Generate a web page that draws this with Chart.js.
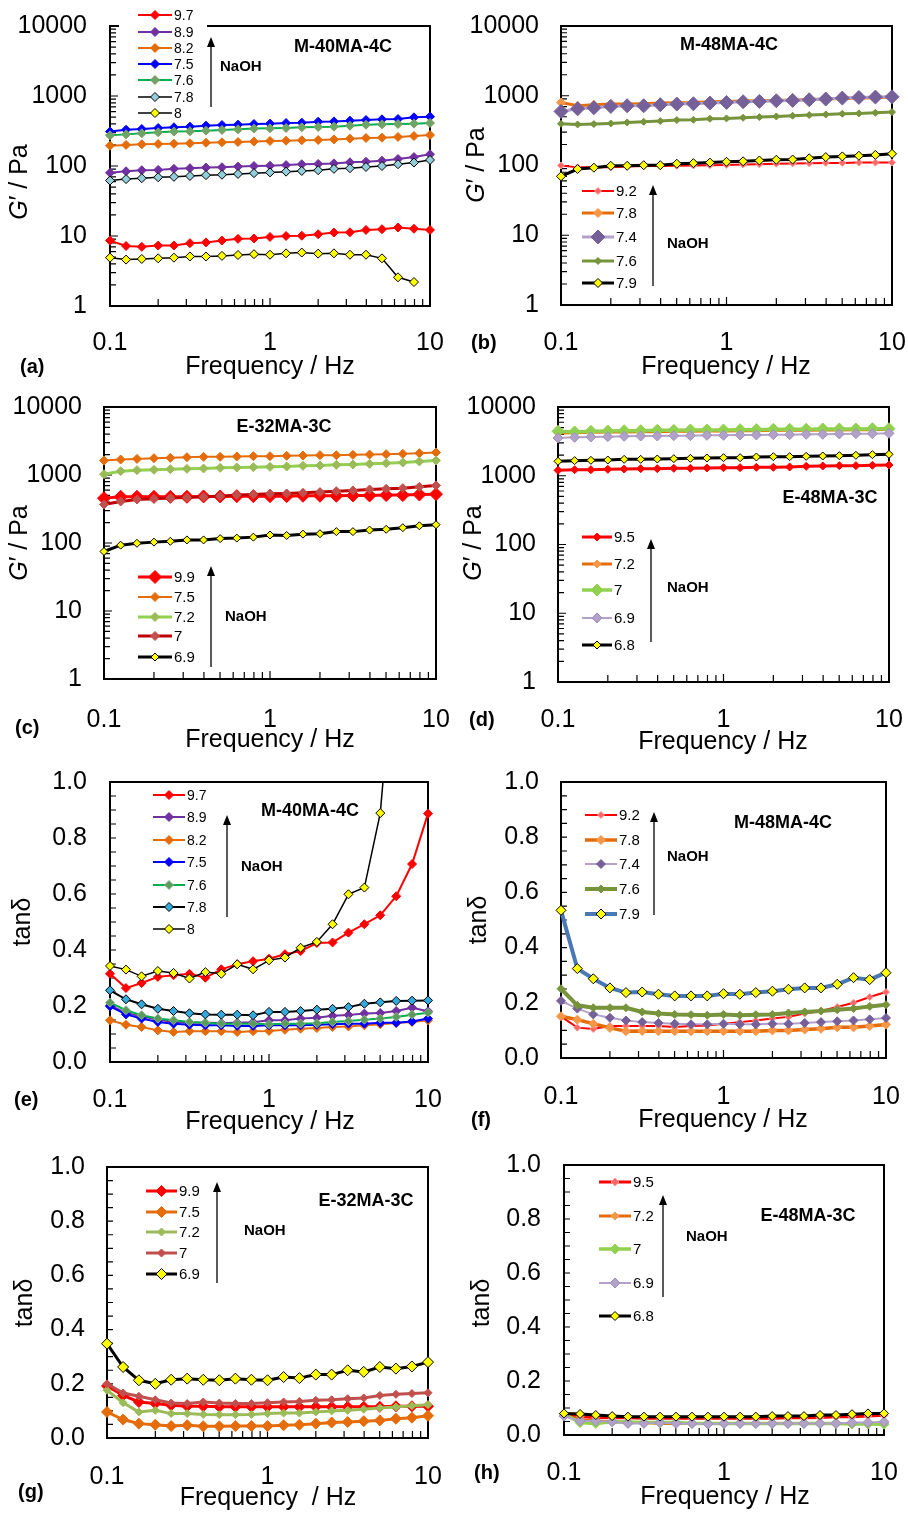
<!DOCTYPE html>
<html>
<head>
<meta charset="utf-8">
<script src="https://cdn.jsdelivr.net/npm/chart.js@4.4.1/dist/chart.umd.min.js"></script>
<style>
  html, body { margin: 0; padding: 0; background: #fff; }
  #wrap { position: relative; width: 908px; height: 1513px; }
  #wrap canvas { position: absolute; left: 0; top: 0; }
</style>
</head>
<body>
<div id="wrap"></div>
<script>
// shared axes
const freq = [0.1, 0.126, 0.158, 0.2, 0.251, 0.316, 0.398, 0.501, 0.631, 0.794, 1, 1.26, 1.58, 2, 2.51, 3.16, 3.98, 5.01, 6.31, 7.94, 10];
const xTickVals = [0.1, 1, 10];
const xTickLabels = ['0.1', '1', '10'];
const gTickVals = [1, 10, 100, 1000, 10000];
const gTickLabels = ['1', '10', '100', '1000', '10000'];
const tanTickVals = [0, 0.2, 0.4, 0.6, 0.8, 1.0];
const tanTickLabels = ['0.0', '0.2', '0.4', '0.6', '0.8', '1.0'];

// (a) M-40MA-4C, G'
const aNames = ['9.7', '8.9', '8.2', '7.5', '7.6', '7.8', '8'];
const a97 = [8.6, 7.2, 7.0, 7.3, 7.3, 7.9, 8.1, 8.6, 9.1, 9.2, 9.7, 10.0, 10.1, 10.6, 11.2, 11.3, 12.2, 12.5, 13.2, 12.7, 12.2];
const a89 = [80, 84, 87, 88, 91, 93, 95, 96, 98, 100, 101, 103, 106, 107, 109, 113, 115, 119, 126, 134, 147];
const a82 = [195, 200, 204, 206, 208, 211, 215, 218, 220, 223, 228, 230, 233, 235, 240, 246, 251, 254, 260, 268, 277];
const a75 = [310, 330, 338, 349, 357, 365, 377, 385, 390, 398, 403, 411, 416, 430, 434, 444, 454, 464, 469, 496, 507];
const a76 = [274, 283, 293, 303, 310, 313, 320, 327, 334, 342, 345, 349, 357, 361, 365, 376, 389, 394, 398, 403, 411];
const a78 = [62, 65, 67, 69, 70, 72, 74, 75, 77, 79, 81, 83, 85, 87, 91, 93, 97, 100, 106, 112, 122];
const a8 = [4.9, 4.6, 4.7, 4.8, 4.9, 5.1, 5.1, 5.2, 5.35, 5.5, 5.4, 5.65, 5.8, 5.6, 5.65, 5.4, 5.4, 4.8, 2.57, 2.2];

// (b) M-48MA-4C, G'
const bNames = ['9.2', '7.8', '7.4', '7.6', '7.9'];
const b92 = [100, 94, 94, 94, 97, 98, 98, 99, 100, 101, 102, 103, 104, 106, 107, 108, 109, 109, 110, 110, 110];
const b78 = [802, 718, 743, 760, 760, 768, 785, 794, 802, 820, 829, 838, 847, 857, 866, 886, 896, 916, 926, 936, 957];
const b74 = [596, 650, 673, 703, 718, 718, 743, 760, 768, 785, 802, 820, 829, 847, 857, 876, 896, 926, 946, 957, 967];
const b76 = [396, 388, 392, 401, 414, 423, 433, 448, 452, 468, 473, 484, 494, 505, 517, 528, 539, 552, 558, 570, 583];
const b79 = [70, 89, 93, 99, 99, 101, 101, 106, 108, 110, 113, 115, 118, 121, 122, 127, 132, 135, 138, 142, 147];

// (c) E-32MA-3C, G'
const cNames = ['9.9', '7.5', '7.2', '7', '6.9'];
const c99 = [457, 478, 478, 478, 478, 478, 484, 484, 489, 489, 489, 489, 495, 495, 495, 500, 500, 506, 506, 517, 523];
const c75 = [1633, 1688, 1726, 1766, 1786, 1827, 1848, 1848, 1869, 1890, 1890, 1911, 1933, 1955, 1955, 1977, 2000, 2022, 2045, 2092, 2139];
const c72 = [1028, 1138, 1178, 1191, 1218, 1232, 1246, 1274, 1288, 1303, 1318, 1333, 1363, 1379, 1410, 1426, 1458, 1492, 1526, 1578, 1633];
const c7 = [369, 408, 437, 447, 457, 468, 478, 489, 506, 517, 529, 535, 547, 560, 579, 593, 613, 627, 641, 670, 702];
const c69 = [75, 93, 99, 103, 106, 111, 111, 116, 118, 122, 131, 129, 135, 137, 147, 147, 155, 159, 168, 179, 186];

// (d) E-48MA-3C, G'
const dNames = ['9.5', '7.2', '7', '6.9', '6.8'];
const d95 = [1199, 1225, 1225, 1240, 1253, 1268, 1268, 1282, 1282, 1297, 1311, 1311, 1326, 1326, 1341, 1371, 1387, 1403, 1403, 1418, 1434];
const d72 = [4185, 4233, 4281, 4329, 4329, 4377, 4377, 4427, 4427, 4477, 4477, 4527, 4527, 4577, 4577, 4577, 4629, 4629, 4680, 4680, 4733];
const d7 = [4427, 4329, 4427, 4477, 4527, 4527, 4577, 4577, 4629, 4629, 4629, 4680, 4680, 4733, 4733, 4733, 4786, 4786, 4786, 4840, 4840];
const d69 = [3541, 3622, 3662, 3703, 3744, 3786, 3786, 3828, 3828, 3871, 3871, 3914, 3914, 3958, 3958, 4003, 4003, 4048, 4093, 4093, 4139];
const d68 = [1621, 1658, 1676, 1695, 1733, 1733, 1752, 1772, 1792, 1812, 1832, 1832, 1874, 1895, 1895, 1916, 1938, 1960, 1982, 2026, 2049];

// (e) M-40MA-4C, tan delta
const eNames = ['9.7', '8.9', '8.2', '7.5', '7.6', '7.8', '8'];
const e97 = [0.315, 0.264, 0.282, 0.304, 0.310, 0.315, 0.301, 0.331, 0.349, 0.360, 0.369, 0.385, 0.396, 0.425, 0.427, 0.462, 0.492, 0.524, 0.592, 0.707, 0.887];
const e89 = [0.202, 0.175, 0.163, 0.152, 0.143, 0.140, 0.140, 0.139, 0.140, 0.142, 0.149, 0.149, 0.155, 0.158, 0.165, 0.168, 0.173, 0.175, 0.182, 0.194, 0.181];
const e82 = [0.149, 0.133, 0.125, 0.113, 0.107, 0.110, 0.110, 0.110, 0.107, 0.110, 0.111, 0.115, 0.119, 0.121, 0.125, 0.127, 0.131, 0.135, 0.139, 0.143, 0.149];
const e75 = [0.199, 0.170, 0.155, 0.143, 0.137, 0.133, 0.131, 0.131, 0.129, 0.129, 0.131, 0.131, 0.131, 0.133, 0.135, 0.137, 0.137, 0.140, 0.140, 0.145, 0.155];
const e76 = [0.212, 0.185, 0.167, 0.155, 0.149, 0.143, 0.140, 0.137, 0.137, 0.137, 0.135, 0.137, 0.137, 0.138, 0.143, 0.146, 0.151, 0.155, 0.161, 0.169, 0.176];
const e78 = [0.256, 0.224, 0.206, 0.190, 0.182, 0.174, 0.170, 0.169, 0.169, 0.167, 0.179, 0.179, 0.182, 0.187, 0.190, 0.196, 0.208, 0.213, 0.218, 0.219, 0.220];
const e8 = [0.343, 0.330, 0.306, 0.325, 0.318, 0.298, 0.321, 0.315, 0.349, 0.331, 0.363, 0.373, 0.408, 0.429, 0.492, 0.599, 0.623, 0.889, 1.55];

// (f) M-48MA-4C, tan delta
const fNames = ['9.2', '7.8', '7.4', '7.6', '7.9'];
const f92 = [0.151, 0.110, 0.105, 0.116, 0.116, 0.116, 0.116, 0.112, 0.116, 0.118, 0.124, 0.130, 0.136, 0.143, 0.149, 0.161, 0.170, 0.185, 0.200, 0.221, 0.239];
const f78 = [0.151, 0.139, 0.124, 0.109, 0.097, 0.098, 0.097, 0.097, 0.097, 0.097, 0.097, 0.097, 0.097, 0.100, 0.100, 0.103, 0.106, 0.111, 0.111, 0.116, 0.121];
const f74 = [0.207, 0.179, 0.158, 0.146, 0.136, 0.130, 0.127, 0.124, 0.122, 0.122, 0.124, 0.122, 0.122, 0.124, 0.124, 0.127, 0.130, 0.133, 0.136, 0.140, 0.145];
const f76 = [0.251, 0.191, 0.182, 0.182, 0.182, 0.167, 0.161, 0.158, 0.157, 0.155, 0.158, 0.155, 0.157, 0.158, 0.163, 0.167, 0.170, 0.175, 0.179, 0.187, 0.193];
const f79 = [0.535, 0.324, 0.287, 0.254, 0.237, 0.239, 0.231, 0.225, 0.225, 0.225, 0.233, 0.231, 0.237, 0.242, 0.249, 0.254, 0.254, 0.267, 0.291, 0.284, 0.309];

// (g) E-32MA-3C, tan delta
const gNames = ['9.9', '7.5', '7.2', '7', '6.9'];
const g99 = [0.192, 0.157, 0.133, 0.127, 0.121, 0.117, 0.117, 0.115, 0.115, 0.115, 0.115, 0.115, 0.115, 0.115, 0.115, 0.115, 0.115, 0.115, 0.117, 0.117, 0.117];
const g75 = [0.096, 0.068, 0.053, 0.049, 0.044, 0.047, 0.043, 0.043, 0.044, 0.044, 0.044, 0.047, 0.049, 0.053, 0.057, 0.059, 0.062, 0.065, 0.071, 0.075, 0.082];
const g72 = [0.176, 0.130, 0.096, 0.102, 0.090, 0.090, 0.087, 0.086, 0.086, 0.087, 0.090, 0.092, 0.092, 0.096, 0.100, 0.102, 0.106, 0.111, 0.114, 0.119, 0.123];
const g7 = [0.200, 0.166, 0.154, 0.141, 0.129, 0.127, 0.133, 0.129, 0.127, 0.127, 0.130, 0.133, 0.135, 0.139, 0.141, 0.145, 0.148, 0.157, 0.161, 0.164, 0.167];
const g69 = [0.348, 0.262, 0.213, 0.200, 0.215, 0.219, 0.215, 0.213, 0.219, 0.215, 0.213, 0.225, 0.221, 0.234, 0.234, 0.250, 0.244, 0.262, 0.256, 0.264, 0.280];

// (h) E-48MA-3C, tan delta
const hNames = ['9.5', '7.2', '7', '6.9', '6.8'];
const h95 = [0.074, 0.068, 0.065, 0.064, 0.064, 0.062, 0.062, 0.062, 0.062, 0.062, 0.062, 0.062, 0.062, 0.062, 0.064, 0.064, 0.065, 0.068, 0.068, 0.070, 0.073];
const h72 = [0.074, 0.056, 0.052, 0.049, 0.047, 0.046, 0.043, 0.043, 0.043, 0.043, 0.043, 0.043, 0.043, 0.043, 0.043, 0.043, 0.043, 0.043, 0.043, 0.043, 0.043];
const h7 = [0.078, 0.046, 0.043, 0.049, 0.047, 0.046, 0.046, 0.046, 0.043, 0.043, 0.043, 0.043, 0.043, 0.043, 0.043, 0.043, 0.043, 0.043, 0.041, 0.041, 0.040];
const h69 = [0.070, 0.052, 0.052, 0.049, 0.043, 0.043, 0.046, 0.043, 0.043, 0.041, 0.043, 0.043, 0.043, 0.043, 0.043, 0.043, 0.043, 0.043, 0.046, 0.046, 0.049];
const h68 = [0.080, 0.078, 0.074, 0.070, 0.068, 0.068, 0.068, 0.068, 0.068, 0.068, 0.068, 0.068, 0.068, 0.070, 0.070, 0.070, 0.074, 0.074, 0.077, 0.080, 0.080];

const FONT = "'Liberation Sans', Arial, sans-serif";
const W = 908, H = 1513, Y_W = 100, X_H = 80;

function series(label, values, o) {
  return {
    label: label,
    data: values.map((v, i) => ({ x: freq[i], y: v })),
    borderColor: o.line,
    borderWidth: o.lw,
    backgroundColor: o.fill,
    pointStyle: 'rectRot',
    pointRadius: o.r,
    pointHoverRadius: o.r,
    pointBackgroundColor: o.fill,
    pointBorderColor: o.edge || o.fill,
    pointBorderWidth: 1,
    tension: 0,
    fill: false,
    clip: { left: 12, right: 12, top: 0, bottom: 12 }
  };
}

function labelFor(v, vals, labels) {
  const i = vals.findIndex(t => Math.abs(v - t) <= 1e-6 * Math.max(Math.abs(t), 1e-3));
  return i >= 0 ? labels[i] : '';
}

const yel = { fill: '#ffff00', edge: '#000000' };

const panels = [
  {
    box: [110, 26, 430, 306], log: true, xPad: 22, yPad: 23,
    title: ['M-40MA-4C', 343, 47], letter: ['(a)', 20, 367],
    xTitle: ['Frequency / Hz', 270, 367], yTitle: [20, 182],
    legend: { x0: 138, x1: 172, ys: [15, 32, 48, 64, 80, 97, 113], size: 14, bg: [119, 0, 88, 33] },
    arrow: [211, 107, 37], naoh: [220, 67],
    sets: [
      series(aNames[0], a97, { line: '#ff0000', fill: '#ff0000', lw: 2, r: 4.5 }),
      series(aNames[1], a89, { line: '#7030a0', fill: '#7030a0', lw: 2, r: 4.5 }),
      series(aNames[2], a82, { line: '#e46c0a', fill: '#e46c0a', lw: 2, r: 4.5 }),
      series(aNames[3], a75, { line: '#0000ff', fill: '#0000ff', lw: 2, r: 4.5 }),
      series(aNames[4], a76, { line: '#00b050', fill: '#6aa66a', edge: '#8a9a5b', lw: 2, r: 4.5 }),
      series(aNames[5], a78, { line: '#000000', fill: '#92cddc', edge: '#000000', lw: 1.5, r: 4.5 }),
      series(aNames[6], a8, { line: '#000000', fill: yel.fill, edge: yel.edge, lw: 1.5, r: 4.5 })
    ]
  },
  {
    box: [561, 26, 892, 305], log: true, xPad: 23, yPad: 22,
    title: ['M-48MA-4C', 729, 45], letter: ['(b)', 471, 343],
    xTitle: ['Frequency / Hz', 726, 367], yTitle: [477, 165],
    legend: { x0: 582, x1: 614, ys: [191, 213, 237, 261, 283], size: 15 },
    arrow: [653, 286, 185], naoh: [667, 244],
    sets: [
      series(bNames[0], b92, { line: '#ff0000', fill: '#ff6666', edge: '#ff9999', lw: 2, r: 3.5 }),
      series(bNames[1], b78, { line: '#e46c0a', fill: '#f79646', lw: 3, r: 4.5 }),
      series(bNames[2], b74, { line: '#b3a2c7', fill: '#76609a', lw: 3, r: 7 }),
      series(bNames[3], b76, { line: '#77933c', fill: '#77933c', lw: 3, r: 3.5 }),
      series(bNames[4], b79, { line: '#000000', fill: yel.fill, edge: yel.edge, lw: 3, r: 4.5 })
    ]
  },
  {
    box: [104, 407, 436, 679], log: true, xPad: 26, yPad: 22,
    title: ['E-32MA-3C', 284, 427], letter: ['(c)', 15, 728],
    xTitle: ['Frequency / Hz', 270, 740], yTitle: [20, 543],
    legend: { x0: 138, x1: 172, ys: [577, 597, 617, 636, 657], size: 15 },
    arrow: [211, 667, 566], naoh: [225, 617],
    sets: [
      series(cNames[0], c99, { line: '#ff0000', fill: '#ff0000', lw: 3, r: 6.5 }),
      series(cNames[1], c75, { line: '#e46c0a', fill: '#e46c0a', lw: 2, r: 4.5 }),
      series(cNames[2], c72, { line: '#92d050', fill: '#9bbb59', lw: 3, r: 4.5 }),
      series(cNames[3], c7, { line: '#c00000', fill: '#c0504d', lw: 3, r: 4.5 }),
      series(cNames[4], c69, { line: '#000000', fill: yel.fill, edge: yel.edge, lw: 3, r: 4 })
    ]
  },
  {
    box: [558, 407, 889, 682], log: true, xPad: 23, yPad: 22,
    title: ['E-48MA-3C', 830, 498], letter: ['(d)', 469, 720],
    xTitle: ['Frequency / Hz', 723, 742], yTitle: [474, 543],
    legend: { x0: 582, x1: 612, ys: [537, 564, 590, 618, 645], size: 15 },
    arrow: [651, 642, 539], naoh: [667, 588],
    sets: [
      series(dNames[0], d95, { line: '#ff0000', fill: '#ff0000', lw: 3, r: 4 }),
      series(dNames[1], d72, { line: '#e46c0a', fill: '#f79646', lw: 3, r: 4 }),
      series(dNames[2], d7, { line: '#92d050', fill: '#92d050', lw: 3.5, r: 6 }),
      series(dNames[3], d69, { line: '#b3a2c7', fill: '#b3a2c7', edge: '#9f8fbf', lw: 2, r: 5 }),
      series(dNames[4], d68, { line: '#000000', fill: yel.fill, edge: yel.edge, lw: 3, r: 4 })
    ]
  },
  {
    box: [110, 782, 428, 1062], log: false, xPad: 23, yPad: 23,
    title: ['M-40MA-4C', 310, 811], letter: ['(e)', 14, 1100],
    xTitle: ['Frequency / Hz', 270, 1122], yTitle: [23, 922],
    legend: { x0: 153, x1: 185, ys: [795, 817, 840, 862, 885, 907, 929], size: 14 },
    arrow: [227, 917, 815], naoh: [241, 867],
    sets: [
      series(eNames[0], e97, { line: '#ff0000', fill: '#ff0000', lw: 2, r: 4.5 }),
      series(eNames[1], e89, { line: '#7030a0', fill: '#7030a0', lw: 2, r: 4.5 }),
      series(eNames[2], e82, { line: '#e46c0a', fill: '#e46c0a', lw: 2, r: 4.5 }),
      series(eNames[3], e75, { line: '#0000ff', fill: '#0000ff', lw: 2, r: 4.5 }),
      series(eNames[4], e76, { line: '#00b050', fill: '#5b9b5b', edge: '#8db38d', lw: 2, r: 4.5 }),
      series(eNames[5], e78, { line: '#000000', fill: '#33a9dc', edge: '#000000', lw: 2, r: 4.5 }),
      series(eNames[6], e8, { line: '#000000', fill: yel.fill, edge: yel.edge, lw: 1.5, r: 4.5 })
    ]
  },
  {
    box: [561, 782, 886, 1058], log: false, xPad: 24, yPad: 22,
    title: ['M-48MA-4C', 783, 823], letter: ['(f)', 471, 1120],
    xTitle: ['Frequency / Hz', 723, 1120], yTitle: [479, 920],
    legend: { x0: 585, x1: 617, ys: [815, 840, 864, 889, 914], size: 15 },
    arrow: [654, 915, 812], naoh: [667, 857],
    sets: [
      series(fNames[0], f92, { line: '#ff0000', fill: '#ff6666', edge: '#ff9999', lw: 2, r: 3.5 }),
      series(fNames[1], f78, { line: '#e46c0a', fill: '#f79646', lw: 3.5, r: 4.5 }),
      series(fNames[2], f74, { line: '#b3a2c7', fill: '#76609a', lw: 2, r: 4.5 }),
      series(fNames[3], f76, { line: '#77933c', fill: '#77933c', lw: 4, r: 4 }),
      series(fNames[4], f79, { line: '#4a78b5', fill: yel.fill, edge: yel.edge, lw: 4, r: 5 })
    ]
  },
  {
    box: [107, 1167, 428, 1438], log: false, xPad: 24, yPad: 22,
    title: ['E-32MA-3C', 366, 1201], letter: ['(g)', 18, 1492],
    xTitle: ['Frequency  / Hz', 268, 1498], yTitle: [25, 1303],
    legend: { x0: 146, x1: 177, ys: [1191, 1212, 1232, 1253, 1274], size: 15 },
    arrow: [217, 1283, 1182], naoh: [244, 1231],
    sets: [
      series(gNames[0], g99, { line: '#ff0000', fill: '#ff0000', lw: 3, r: 5.5 }),
      series(gNames[1], g75, { line: '#e46c0a', fill: '#e46c0a', lw: 3, r: 5.5 }),
      series(gNames[2], g72, { line: '#9bbb59', fill: '#9bbb59', lw: 3, r: 4 }),
      series(gNames[3], g7, { line: '#c0504d', fill: '#c0504d', lw: 3, r: 4 }),
      series(gNames[4], g69, { line: '#000000', fill: yel.fill, edge: yel.edge, lw: 3, r: 5.5 })
    ]
  },
  {
    box: [564, 1165, 884, 1435], log: false, xPad: 23, yPad: 23,
    title: ['E-48MA-3C', 808, 1216], letter: ['(h)', 474, 1473],
    xTitle: ['Frequency / Hz', 725, 1497], yTitle: [482, 1303],
    legend: { x0: 599, x1: 631, ys: [1182, 1216, 1249, 1283, 1316], size: 15 },
    arrow: [663, 1297, 1195], naoh: [686, 1237],
    sets: [
      series(hNames[0], h95, { line: '#ff0000', fill: '#ff6666', edge: '#ff9999', lw: 3, r: 4 }),
      series(hNames[1], h72, { line: '#e46c0a', fill: '#f79646', lw: 3, r: 4 }),
      series(hNames[2], h7, { line: '#92d050', fill: '#92d050', lw: 3.5, r: 5 }),
      series(hNames[3], h69, { line: '#b3a2c7', fill: '#b3a2c7', edge: '#9f8fbf', lw: 2, r: 5 }),
      series(hNames[4], h68, { line: '#000000', fill: yel.fill, edge: yel.edge, lw: 3, r: 4.5 })
    ]
  }
];

function diamond(ctx, x, y, r) {
  ctx.beginPath();
  ctx.moveTo(x, y - r);
  ctx.lineTo(x + r, y);
  ctx.lineTo(x, y + r);
  ctx.lineTo(x - r, y);
  ctx.closePath();
}

// frame, inward ticks, legend and labels for one panel
function decor(p) {
  return {
    id: 'decor',
    beforeDatasetsDraw(chart) {
      const { ctx, chartArea: a } = chart;
      const xs = chart.scales.x, ys = chart.scales.y;
      ctx.save();
      ctx.strokeStyle = '#000';
      ctx.lineWidth = 1.2;
      ctx.beginPath();
      for (const d of [-1, 0]) {
        for (let m = 2; m <= 9; m++) {
          const px = xs.getPixelForValue(m * Math.pow(10, d));
          ctx.moveTo(px, a.bottom);
          ctx.lineTo(px, a.bottom - 7);
        }
      }
      const p1 = xs.getPixelForValue(1);
      ctx.moveTo(p1, a.bottom);
      ctx.lineTo(p1, a.bottom - 8);
      if (p.log) {
        for (let d = 0; d < 4; d++) {
          for (let m = 1; m <= 9; m++) {
            const py = ys.getPixelForValue(m * Math.pow(10, d));
            ctx.moveTo(a.left, py);
            ctx.lineTo(a.left + (m === 1 ? 8 : 6), py);
          }
        }
      } else {
        for (let k = 1; k < 20; k++) {
          const py = ys.getPixelForValue(k * 0.05);
          ctx.moveTo(a.left, py);
          ctx.lineTo(a.left + 6, py);
        }
      }
      ctx.stroke();
      ctx.lineWidth = 2;
      ctx.strokeRect(a.left, a.top, a.right - a.left, a.bottom - a.top);
      ctx.restore();
    },
    afterDraw(chart) {
      const ctx = chart.ctx;
      ctx.save();
      ctx.fillStyle = '#000';
      ctx.textBaseline = 'middle';

      // legend
      const lg = p.legend;
      if (lg.bg) {
        ctx.fillStyle = '#fff';
        ctx.fillRect(lg.bg[0], lg.bg[1], lg.bg[2], lg.bg[3]);
      }
      chart.data.datasets.forEach((d, i) => {
        const y = lg.ys[i];
        ctx.strokeStyle = d.borderColor;
        ctx.lineWidth = d.borderWidth;
        ctx.beginPath();
        ctx.moveTo(lg.x0, y);
        ctx.lineTo(lg.x1, y);
        ctx.stroke();
        diamond(ctx, (lg.x0 + lg.x1) / 2, y, d.pointRadius);
        ctx.fillStyle = d.pointBackgroundColor;
        ctx.fill();
        ctx.lineWidth = 1;
        ctx.strokeStyle = d.pointBorderColor;
        ctx.stroke();
        ctx.fillStyle = '#000';
        ctx.font = lg.size + 'px ' + FONT;
        ctx.textAlign = 'left';
        ctx.fillText(d.label, lg.x1 + 2, y + 1);
      });

      // NaOH arrow
      const [ax, ay0, ay1] = p.arrow;
      ctx.strokeStyle = '#000';
      ctx.lineWidth = 1.3;
      ctx.beginPath();
      ctx.moveTo(ax, ay0);
      ctx.lineTo(ax, ay1 + 8);
      ctx.stroke();
      ctx.beginPath();
      ctx.moveTo(ax, ay1);
      ctx.lineTo(ax + 4, ay1 + 10);
      ctx.lineTo(ax - 4, ay1 + 10);
      ctx.closePath();
      ctx.fill();
      ctx.font = 'bold 15px ' + FONT;
      ctx.textAlign = 'left';
      ctx.fillText('NaOH', p.naoh[0], p.naoh[1]);

      // sample title
      ctx.font = 'bold 18px ' + FONT;
      ctx.textAlign = 'center';
      ctx.fillText(p.title[0], p.title[1], p.title[2]);

      // panel letter
      ctx.font = 'bold 20px ' + FONT;
      ctx.textAlign = 'left';
      ctx.fillText(p.letter[0], p.letter[1], p.letter[2]);

      // x title
      ctx.font = '25px ' + FONT;
      ctx.textAlign = 'center';
      ctx.fillText(p.xTitle[0], p.xTitle[1], p.xTitle[2]);

      // y title
      ctx.translate(p.yTitle[0], p.yTitle[1]);
      ctx.rotate(-Math.PI / 2);
      if (p.log) {
        ctx.font = 'italic 25px ' + FONT;
        const w1 = ctx.measureText('G').width;
        ctx.font = '25px ' + FONT;
        const w2 = ctx.measureText('\u2032 / Pa').width;
        const x0 = -(w1 + w2) / 2;
        ctx.textAlign = 'left';
        ctx.font = 'italic 25px ' + FONT;
        ctx.fillText('G', x0, 0);
        ctx.font = '25px ' + FONT;
        ctx.fillText('\u2032 / Pa', x0 + w1, 0);
      } else {
        ctx.font = '25px ' + FONT;
        ctx.textAlign = 'center';
        ctx.fillText('tan\u03b4', 0, 0);
      }
      ctx.restore();
    }
  };
}

function zeroPad(s) {
  s.paddingTop = 0; s.paddingBottom = 0; s.paddingLeft = 0; s.paddingRight = 0;
}

const wrap = document.getElementById('wrap');
panels.forEach(p => {
  const cv = document.createElement('canvas');
  cv.width = W; cv.height = H;
  cv.style.width = W + 'px'; cv.style.height = H + 'px';
  wrap.appendChild(cv);
  const [L, T, R, B] = p.box;
  p.sets.forEach((d, i) => { d.order = -i; });
  const tickFont = { family: FONT, size: 25 };
  const yScale = p.log
    ? { type: 'logarithmic', min: 1, max: 10000,
        ticks: { autoSkip: false, padding: p.yPad, font: tickFont, color: '#000',
                 callback: v => labelFor(v, gTickVals, gTickLabels) } }
    : { type: 'linear', min: 0, max: 1,
        ticks: { stepSize: 0.2, autoSkip: false, padding: p.yPad, font: tickFont, color: '#000',
                 callback: v => labelFor(v, tanTickVals, tanTickLabels) } };
  yScale.grid = { display: false, drawTicks: false };
  yScale.border = { display: false };
  yScale.afterFit = s => { s.width = Y_W; zeroPad(s); };

  new Chart(cv, {
    type: 'line',
    data: { datasets: p.sets },
    options: {
      responsive: false,
      animation: false,
      devicePixelRatio: 1,
      events: [],
      layout: { padding: { left: L - Y_W, top: T, right: W - R, bottom: H - B - X_H } },
      plugins: { legend: { display: false }, tooltip: { enabled: false } },
      scales: {
        x: {
          type: 'logarithmic', min: 0.1, max: 10,
          grid: { display: false, drawTicks: false },
          border: { display: false },
          ticks: { autoSkip: false, maxRotation: 0, padding: p.xPad, font: tickFont, color: '#000',
                   callback: v => labelFor(v, xTickVals, xTickLabels) },
          afterFit: s => { s.height = X_H; zeroPad(s); }
        },
        y: yScale
      }
    },
    plugins: [decor(p)]
  });
});
</script>
</body>
</html>
